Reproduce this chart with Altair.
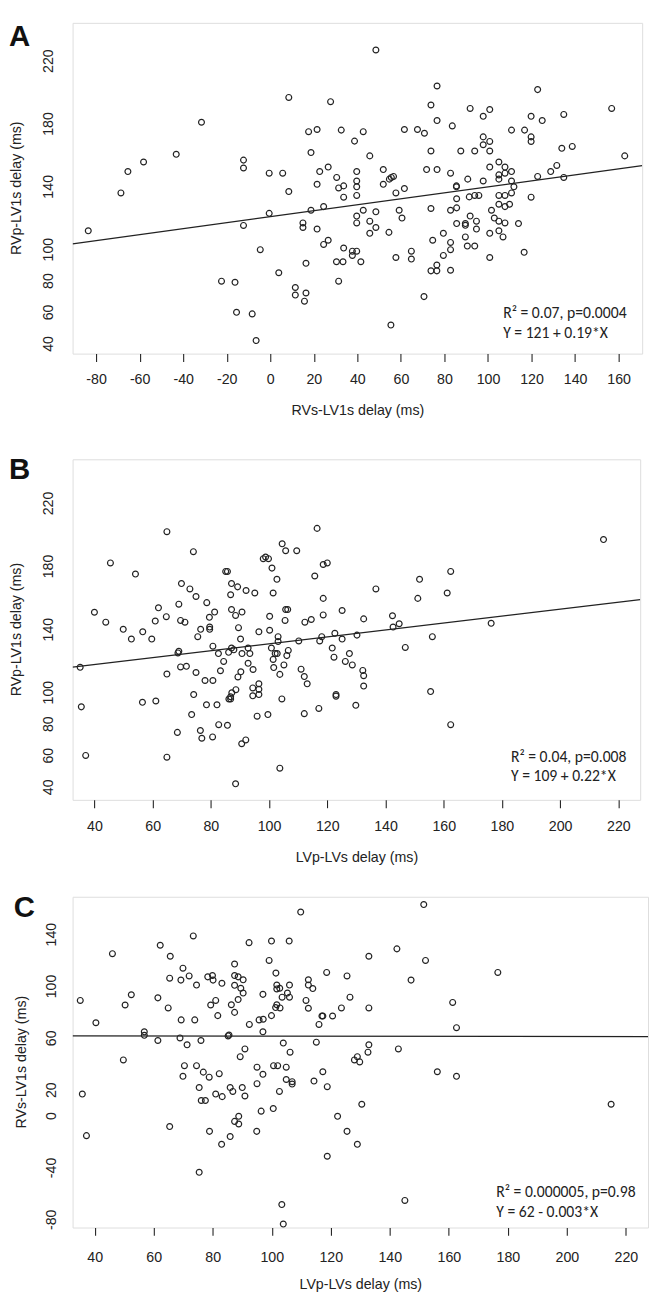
import altair as alt
import pandas as pd

# ---------------- Panel A: RVs-LV1s (x) vs RVp-LV1s (y) ----------------
a_x = [48.5, 8.5, 27.7, 76.6, 122.8, 73.8, 91.8, 100.8, 156.8, -31.6,
       76.6, 83.6, 97.8, 119.8, 124.9, 134.8, 17.6, 21.5, 32.6, 42.7,
       61.6, 67.6, 70.8, 110.8, 116.8, 119.8, 119.8, 97.8, 100.8, 97.8,
       38.7, 133.9, 138.7, -43.2, 18.7, 73.8, 87.5, 93.9, 100.8, 162.8,
       45.7, -58.2, -12.3, -12.3, -65.4, -0.5, 5.7, 26.6, 22.7, 39.7,
       51.9, 71.8, 76.6, 82.8, 100.8, 105.0, 107.8, 107.8, 131.6, 128.8,
       21.5, 30.5, 39.7, 31.4, 33.7, 39.7, 51.9, 54.7, 55.6, 56.6,
       61.6, 85.5, 85.5, 90.7, 97.8, 105.0, 105.0, 110.8, 110.8, 122.8,
       134.8, 111.9,
       -68.6, 8.5, 33.7, 39.7, 57.7, 85.6, 91.4, 93.9, 95.8, 105.0,
       107.8, 110.8, 119.8, 105.0, 107.8, 109.9, 85.6, 73.8, 82.8, 101.6,
       102.9, 105.0, 107.8, 114.0, 91.8, 94.7, 89.6, 89.6, 85.6, 94.7,
       89.6, 90.5, 93.9, 100.8, 105.0, 106.9, 116.6, 100.8, 79.5, 82.8,
       82.8, 79.5, 74.6, 76.5, 73.8, 76.5, 82.8, 70.6, 55.4, 59.2,
       60.5, 64.8, 64.8, 57.7, 54.5, 48.5, 42.7, 39.7, 39.7, 45.7,
       48.5, 45.7, 33.7, 37.7, 37.7, 39.7, 41.6, 30.4, 33.4, 31.4,
       24.5, 26.6, 21.5, 15.0, 15.0, 18.7, 24.5, 16.4, 11.5, 11.5,
       16.4, 15.7, 3.9, -0.5, -4.6, -12.3, -22.4, -16.2, -15.5, -8.3,
       -6.5, -83.6]
a_y = [227.1, 196.9, 194.2, 204.2, 201.9, 192.1, 189.9, 189.2, 189.9, 181.1,
       182.2, 178.8, 184.9, 184.9, 182.2, 186.1, 175.1, 176.5, 176.1, 175.1,
       176.5, 176.5, 174.1, 176.1, 176.1, 171.8, 168.9, 171.8, 168.9, 166.8,
       169.1, 164.5, 165.7, 160.7, 161.8, 162.8, 162.8, 162.8, 162.8, 159.7,
       159.7, 155.8, 157.0, 152.0, 149.7, 148.7, 148.7, 152.6, 149.7, 149.7,
       151.0, 151.0, 151.0, 148.7, 152.6, 155.8, 152.6, 148.7, 153.6, 149.7,
       141.6, 146.0, 143.7, 139.3, 140.6, 140.0, 141.6, 144.9, 146.0, 146.6,
       138.9, 140.6, 140.0, 144.9, 143.7, 144.9, 147.6, 149.7, 143.7, 146.6,
       146.0, 140.0,
       136.1, 137.0, 133.4, 134.5, 136.1, 132.4, 133.6, 134.5, 134.5, 134.5,
       134.5, 136.1, 133.4, 128.9, 127.4, 128.9, 126.6, 126.2, 125.1, 125.1,
       120.1, 118.1, 117.0, 116.6, 121.4, 118.1, 116.6, 115.5, 116.6, 113.1,
       108.1, 102.3, 102.3, 110.4, 112.0, 108.1, 98.3, 95.0, 110.4, 104.6,
       100.0, 96.3, 106.0, 90.2, 86.5, 86.5, 86.9, 70.1, 52.0, 125.1,
       120.1, 99.0, 94.0, 95.0, 111.0, 124.1, 125.1, 121.4, 117.0, 118.1,
       114.1, 110.4, 101.0, 99.0, 96.3, 99.0, 92.3, 92.3, 92.3, 79.9,
       103.3, 106.0, 113.1, 117.0, 114.1, 125.1, 127.4, 91.3, 75.9, 71.1,
       72.4, 67.2, 85.3, 123.1, 100.0, 115.4, 79.9, 79.2, 60.1, 59.1,
       42.1, 112.0]

# ---------------- Panel B: LVp-LVs (x) vs RVp-LV1s (y) ----------------
b_x = [64.9, 116.5, 214.9, 104.5, 105.7, 109.5, 74.0, 98.0, 98.8, 99.8,
       45.5, 118.6, 120.0, 101.0, 54.1, 85.1, 85.7, 162.4, 115.7, 69.9,
       87.1, 102.7, 151.7, 72.8, 74.9, 89.2, 92.1, 95.1, 86.8, 101.4,
       136.7, 161.2, 151.1, 118.6, 78.6, 69.0, 62.0, 40.0, 87.1, 90.7,
       105.7, 106.4, 125.1, 81.3, 88.5,
       43.9, 60.9, 64.7, 69.6, 71.1, 79.5, 100.2, 105.5, 112.3, 114.5,
       118.6, 132.5, 142.4, 144.7, 176.3, 49.9, 52.7, 56.6, 59.7, 75.5,
       76.5, 79.6, 79.6, 80.7, 82.6, 84.4, 86.1, 87.1, 87.9, 89.3,
       90.3, 90.7, 90.2, 92.8, 93.4, 92.8, 94.5, 89.5, 96.5, 100.2,
       100.8, 101.4, 101.6, 102.1, 102.8, 103.1, 103.1, 103.7, 105.1, 106.1,
       106.6, 110.2, 111.0, 112.1, 113.1, 118.1, 117.4, 121.7, 122.3, 122.6,
       125.1, 126.2, 127.6, 128.6, 130.2, 132.2, 132.5, 132.5, 129.8, 123.0,
       123.0, 117.1, 112.1, 104.4, 99.6, 95.9, 96.5, 96.5, 96.5, 94.4,
       94.4, 88.6, 87.2, 86.8, 86.8, 86.2, 85.7, 82.7, 82.1, 78.5,
       74.1, 73.4, 76.4, 76.9, 80.6, 68.5, 64.9, 56.5, 61.1, 64.9,
       69.6, 71.6, 68.7, 69.0, 74.9, 78.0, 80.7, 83.3, 35.1, 35.5,
       37.0, 90.6, 92.0, 88.5, 103.7, 155.5, 156.1, 146.8, 162.4, 142.6]
b_y = [202.1, 204.2, 197.1, 194.4, 190.0, 190.0, 189.4, 185.0, 186.0, 185.0,
       182.3, 181.3, 182.3, 179.0, 175.2, 176.9, 176.9, 176.9, 174.0, 169.2,
       169.2, 171.9, 171.9, 165.8, 161.0, 167.1, 164.8, 163.2, 162.1, 163.2,
       165.8, 163.2, 159.8, 159.8, 157.1, 156.1, 153.8, 151.0, 152.7, 151.1,
       152.7, 152.7, 152.1, 151.1, 149.0,
       144.7, 145.4, 148.2, 145.8, 144.7, 147.8, 148.4, 145.8, 144.7, 146.4,
       149.3, 146.8, 148.8, 143.7, 144.0, 140.2, 134.0, 138.6, 134.0, 135.5,
       140.2, 141.6, 140.2, 129.5, 124.8, 119.8, 125.6, 128.3, 127.2, 110.0,
       113.2, 124.8, 134.0, 128.3, 124.8, 118.6, 114.7, 141.2, 138.6, 139.6,
       128.3, 121.1, 115.9, 124.8, 124.8, 135.5, 132.4, 111.6, 117.6, 123.5,
       126.8, 132.8, 114.9, 110.2, 105.6, 135.5, 132.8, 128.3, 122.5, 137.7,
       134.0, 119.8, 124.8, 117.6, 136.5, 114.1, 110.8, 104.2, 92.0, 98.8,
       97.8, 90.0, 86.7, 96.0, 86.1, 85.1, 105.6, 102.1, 98.8, 103.0,
       98.0, 101.9, 99.9, 97.4, 96.0, 96.0, 79.3, 79.7, 92.3, 92.3,
       98.8, 86.1, 76.0, 71.1, 71.9, 74.8, 59.1, 93.9, 94.7, 111.8,
       116.3, 116.7, 125.2, 126.2, 112.8, 107.7, 107.7, 113.9, 116.1, 91.0,
       60.2, 67.6, 70.0, 42.2, 52.1, 100.7, 135.5, 128.7, 79.7, 141.6]

# ---------------- Panel C: LVp-LVs (x) vs RVs-LV1s (y) ----------------
c_x = [151.5, 109.8, 73.4, 92.3, 99.9, 105.9, 62.2, 142.4, 46.0, 65.6,
       132.9, 99.1, 152.1, 87.4, 69.9, 101.4, 118.6, 176.6, 72.0, 74.5,
       78.3, 79.9, 80.1, 69.2, 65.4, 87.4, 88.6, 90.3, 83.1, 87.4,
       89.5, 90.3, 97.0, 101.7, 102.7, 101.7, 106.0, 112.4, 112.4, 113.9,
       125.5, 147.2, 105.3, 106.0, 103.5, 52.4, 61.4, 126.5, 35.1, 50.3,
       64.9, 81.0, 79.3, 88.6, 86.3, 101.7, 102.8, 101.3, 111.6, 112.4,
       123.6, 132.9, 161.3, 40.4, 69.3, 73.9, 81.7, 87.4, 95.7, 97.1,
       99.9, 117.0, 117.3, 120.6, 92.4, 97.0, 116.0, 162.6, 56.8, 56.8,
       85.2, 85.5, 61.4, 68.9, 71.3, 76.0, 90.9, 103.9, 115.1, 132.9,
       142.9, 49.7, 89.3, 106.2, 128.0, 129.0, 129.8, 132.6,
       70.4, 74.5, 95.0, 100.6, 102.0, 104.9, 69.9, 76.8, 78.8, 82.2,
       97.0, 95.0, 104.9, 106.9, 106.9, 114.3, 117.3, 156.1, 162.6, 75.4,
       85.9, 90.0, 102.6, 86.8, 76.1, 77.5, 81.0, 83.2, 90.9, 118.8,
       35.8, 100.5, 96.4, 88.8, 87.4, 88.8, 122.3, 130.5, 215.0, 65.4,
       37.2, 78.9, 94.9, 85.9, 83.0, 125.5, 129.0, 118.8, 75.4, 145.1,
       103.4, 103.9]
c_y = [163.2, 157.4, 139.0, 133.8, 135.0, 135.0, 131.8, 129.0, 125.3, 123.3,
       123.3, 120.1, 120.1, 117.3, 114.1, 110.3, 110.8, 110.8, 108.1, 101.1,
       107.4, 108.4, 104.9, 104.9, 106.4, 108.4, 107.4, 105.1, 102.4, 100.9,
       98.6, 94.9, 93.9, 101.1, 98.6, 98.1, 101.1, 105.1, 101.1, 98.4,
       108.1, 104.9, 94.9, 91.7, 91.7, 93.6, 91.2, 91.7, 89.2, 85.7,
       83.4, 89.2, 85.7, 89.9, 85.9, 85.9, 83.4, 83.7, 89.2, 83.2,
       83.4, 83.4, 87.7, 72.0, 74.2, 74.2, 77.5, 80.0, 74.2, 74.7,
       77.5, 77.2, 77.2, 77.2, 70.7, 65.0, 70.7, 68.2, 65.0, 62.3,
       61.8, 62.5, 58.3, 60.3, 55.0, 58.3, 51.8, 56.3, 57.0, 55.0,
       51.8, 43.3, 45.8, 49.3, 43.3, 45.8, 41.8, 49.3,
       38.9, 38.9, 37.7, 38.9, 38.9, 37.7, 30.7, 33.9, 30.0, 32.7,
       32.2, 25.0, 28.2, 26.5, 24.7, 27.0, 34.2, 34.2, 30.7, 22.0,
       22.0, 22.0, 19.0, 19.0, 12.0, 12.0, 17.0, 15.0, 15.5, 22.7,
       17.0, 5.8, 3.8, -0.2, -4.1, -6.1, -0.2, 9.1, 9.1, -8.1,
       -15.1, -11.8, -11.8, -15.8, -21.8, -11.8, -21.8, -31.0, -43.4, -65.1,
       -68.3, -83.3]

# tick values and the ones that carry a label (as in the original R plot)
a_xticks = [-80, -60, -40, -20, 0, 20, 40, 60, 80, 100, 120, 140, 160]
bc_xticks = [40, 60, 80, 100, 120, 140, 160, 180, 200, 220]
ab_yticks = [40, 60, 80, 100, 120, 140, 160, 180, 200, 220, 240]
ab_ylabels = [40, 60, 80, 100, 140, 180, 220]
c_yticks = [-80, -60, -40, -20, 0, 20, 40, 60, 80, 100, 120, 140, 160]
c_ylabels = [-80, -40, 0, 20, 60, 100, 140]

# regression fits (intercept, slope) and annotation texts
fits = {"A": (121, 0.19), "B": (109, 0.22), "C": (62, -0.003)}
notes = {
    "A": ["R\u00b2 = 0.07, p=0.0004", "Y = 121 + 0.19*X"],
    "B": ["R\u00b2 = 0.04, p=0.008", "Y = 109 + 0.22*X"],
    "C": ["R\u00b2 = 0.000005, p=0.98", "Y = 62 - 0.003*X"],
}

FONT = "Liberation Sans, Arial, Helvetica, sans-serif"
ANN_FONT = "Carlito, Lato, Liberation Sans, sans-serif"
INK = "#222222"


def panel(letter, xs, ys, xtitle, ytitle, xdom, ydom, xticks, yticks, ylabels,
          w, h, letter_x, letter_y, note_x, note_y, ylab_x, ytitle_x,
          xlab_pad, xtitle_pad):
    df = pd.DataFrame({"x": xs, "y": ys})
    b0, b1 = fits[letter]
    line_df = pd.DataFrame({"x": xdom, "y": [b0 + b1 * v for v in xdom]})
    ylab_df = pd.DataFrame({"v": ylabels, "lab": [str(v) for v in ylabels]})

    xax = alt.Axis(values=xticks, title=xtitle, grid=False, domain=False,
                   tickSize=8, tickColor=INK, tickWidth=1.1,
                   labelPadding=xlab_pad, labelFontSize=14.5, labelFont=FONT,
                   labelColor=INK, labelOverlap=False, labelFlush=False,
                   labelExpr="datum.value + ''",
                   titleFont=FONT, titleFontSize=14.5, titleFontWeight="normal",
                   titleColor=INK, titlePadding=xtitle_pad)
    yax = alt.Axis(values=yticks, title=None, grid=False, domain=False,
                   tickSize=8, tickColor=INK, tickWidth=1.1, labels=False)
    xs_ = alt.Scale(domain=xdom, nice=False, zero=False)
    ys_ = alt.Scale(domain=ydom, nice=False, zero=False)

    pts = alt.Chart(df).mark_point(
        shape="circle", filled=False, size=36, strokeWidth=1.2,
        color=INK, opacity=1
    ).encode(
        x=alt.X("x:Q", scale=xs_, axis=xax),
        y=alt.Y("y:Q", scale=ys_, axis=yax),
    )
    line = alt.Chart(line_df).mark_line(color=INK, strokeWidth=1.3, clip=True).encode(
        x=alt.X("x:Q", scale=xs_, axis=xax),
        y=alt.Y("y:Q", scale=ys_, axis=yax),
    )
    # rotated y tick labels (R style, parallel to the axis), placed by the y scale
    ylabs = alt.Chart(ylab_df).mark_text(
        font=FONT, fontSize=14.5, angle=270, align="center", baseline="bottom",
        color=INK
    ).encode(
        y=alt.Y("v:Q", scale=ys_, axis=None),
        x=alt.value(ylab_x),
        text="lab:N",
    )
    ytit = alt.Chart(pd.DataFrame({"t": [ytitle]})).mark_text(
        font=FONT, fontSize=14.5, angle=270, align="center", baseline="middle",
        color=INK
    ).encode(x=alt.value(ytitle_x), y=alt.value(h / 2), text="t:N")
    let = alt.Chart(pd.DataFrame({"t": [letter]})).mark_text(
        font=FONT, fontSize=30, fontWeight="bold", align="left",
        baseline="alphabetic", color="#111111"
    ).encode(x=alt.value(letter_x), y=alt.value(letter_y), text="t:N")
    n1 = alt.Chart(pd.DataFrame({"t": [notes[letter][0]]})).mark_text(
        font=ANN_FONT, fontSize=16, align="left", baseline="middle", color=INK
    ).encode(x=alt.value(note_x), y=alt.value(note_y), text="t:N")
    n2 = alt.Chart(pd.DataFrame({"t": [notes[letter][1]]})).mark_text(
        font=ANN_FONT, fontSize=16, align="left", baseline="middle", color=INK
    ).encode(x=alt.value(note_x), y=alt.value(note_y + 20), text="t:N")
    return alt.layer(line, pts, ylabs, ytit, let, n1, n2).properties(width=w, height=h)


pA = panel("A", a_x, a_y, "RVs-LV1s delay (ms)", "RVp-LV1s delay (ms)",
           [-90.8, 170.8], [33.8, 244.4], a_xticks, ab_yticks, ab_ylabels,
           582, 338, -65, 24, 440, 297, -17, -57, 12, 18)
pB = panel("B", b_x, b_y, "LVp-LVs delay (ms)", "RVp-LV1s delay (ms)",
           [32.5, 227.5], [32, 248], bc_xticks, ab_yticks, ab_ylabels,
           580, 348, -65, 20, 448, 304, -17, -57, 12, 18)
pC = panel("C", c_x, c_y, "LVp-LVs delay (ms)", "RVs-LV1s delay (ms)",
           [32.5, 227.5], [-86, 169.2], bc_xticks, c_yticks, c_ylabels,
           588, 338, -60, 21, 433, 302, -14, -52, 16, 14)

chart = alt.vconcat(
    alt.vconcat(pA, pB, spacing=37),
    pC,
    spacing=29,
).properties(padding=0).configure_view(
    stroke=INK, strokeWidth=1.2
).configure_axis(labelOverlap=False).configure(background="white")

chart.save("out.html", embed_options={"renderer": "svg", "actions": False})
